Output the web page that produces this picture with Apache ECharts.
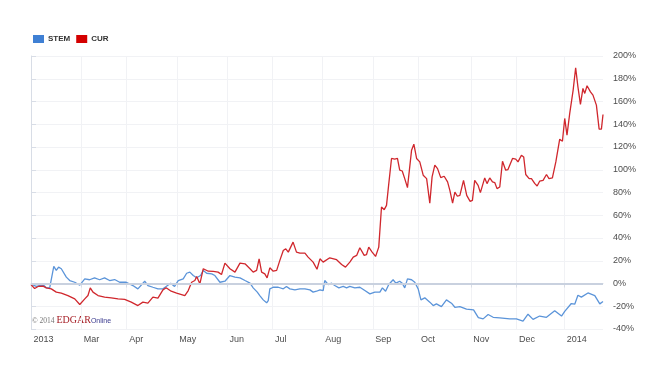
<!DOCTYPE html>
<html>
<head>
<meta charset="utf-8">
<script src="https://cdn.jsdelivr.net/npm/echarts@6/dist/echarts.min.js"></script>
<style>html,body{margin:0;padding:0;background:#fff;}#c{width:670px;height:374px;}</style>
</head>
<body>
<div id="c"></div>
<script>
// x = trading-day index from the first session shown
var monthTickIdx = [0, 22, 42, 64, 86, 106, 128, 150, 170, 193, 213, 234];
var monthLabels = ['2013', 'Mar', 'Apr', 'May', 'Jun', 'Jul', 'Aug', 'Sep', 'Oct', 'Nov', 'Dec', '2014'];
var yTicks = [-40, -20, 0, 20, 40, 60, 80, 100, 120, 140, 160, 180, 200];

var stemPoints = [
[0,-0.6],[2.3,-2.6],[3.8,-1.8],[5.7,-1.8],[6.7,-3.8],[8.2,-3.8],[8.9,-4.7],[10,15],[11.1,11.5],[12.1,14.4],
[13.3,13],[14,14.4],[15.5,5.6],[17,2.6],[19.2,1.1],[21.4,-1.5],[23.6,4.1],[25.7,3.3],[27.9,5],[30.1,3.3],
[32.3,5],[34.5,2.6],[36.7,3.5],[38.9,1.1],[41.8,1.1],[44.7,-1.8],[46.9,-4.7],[49.9,2],[51.3,-1.8],[53.5,-3.3],
[55.7,-4.7],[57.9,-4.7],[59.3,-2.6],[61.3,0.3],[63,-2.6],[64.6,2.6],[66.8,4.1],[68.3,9],[69.7,10],[71.2,7],
[72.7,5],[74.4,7],[75.6,11.5],[77.1,9],[79.3,8.5],[80.7,7],[82.9,1.1],[85.1,2],[87.3,7],[89.5,5.6],
[91.7,5],[93.9,2.6],[96.1,0.3],[97.5,-3.8],[99.3,-7.6],[100.4,-10.6],[101.9,-14.4],[103.4,-17],[104.1,-15],[104.8,-4.7],
[106.3,-3.3],[108.5,-3.3],[110.7,-4.7],[112.1,-2.6],[113.6,-4.7],[115.8,-5.6],[118,-4.7],[120.2,-4.7],[122.4,-5.6],[123.8,-7.6],
[125.3,-6.8],[126.8,-5.6],[128.2,-6.2],[128.9,2.6],[130.4,-0.9],[131.9,0.3],[133.3,-1.8],[135.1,-3.8],[137,-2.6],[138.5,-3.8],
[139.9,-2.6],[142.1,-3.8],[144.3,-3.3],[146.5,-6.2],[148.7,-9.1],[150.9,-7.6],[153.1,-7.6],[154.2,-3.8],[155.6,-6.8],[157,-0.9],
[158.9,3.3],[160.1,0.3],[161.8,2],[162.9,0.3],[164,-3.8],[165.2,4.1],[167,3.3],[168.4,1.1],[169.9,-4.7],[171.1,-14.4],
[172.8,-12.6],[175,-16.4],[176.5,-19.4],[177.9,-17.9],[180.1,-20.3],[182.3,-14.4],[184.5,-17.3],[186,-20.9],[188.2,-20.3],[191.1,-22.6],
[194.2,-23.2],[196.3,-30],[198.4,-31.1],[200.6,-27.3],[202.8,-29.7],[205.7,-30.2],[210.1,-31.1],[213,-31.1],[215.9,-33],[218.1,-27],
[220.3,-31.5],[223.2,-28.6],[226.2,-29.7],[229.8,-24],[232.8,-28.6],[234.2,-24.5],[237.1,-17.6],[238.6,-18.2],[240,-10.3],[241.5,-12],
[244.4,-8.3],[247.4,-10.6],[249.6,-17.9],[251,-15.8]
];

var curPoints = [
[0,-1],[1.6,-4.4],[3.1,-2.6],[5.3,-2.3],[6.7,-3.8],[8.9,-4.7],[11.1,-7.6],[13.3,-8.5],[16.2,-10.6],[19.2,-13.5],
[21.4,-18.5],[23.6,-13.5],[25,-10.6],[26,-3.8],[27.2,-7.6],[29.4,-10.6],[32.3,-12],[35.2,-12.6],[38.2,-13.5],[41.1,-14],
[44,-16.4],[46.9,-19.4],[49.1,-16.4],[51.3,-17.3],[53.5,-12],[55.7,-12.9],[57.9,-5.6],[59.3,-3.8],[61.5,-6.8],[63.9,-8.5],
[67.5,-10.6],[69,-6.2],[70.5,1.1],[71.9,2.6],[72.7,6.2],[74.1,-0.3],[75.6,13],[77.8,10.8],[80,10.6],[82.1,10],
[83.6,7.9],[85.1,17.9],[87.3,13],[89.5,10],[91.7,17.9],[93.9,17.3],[96.1,13],[97.5,10],[99,11.5],[100.1,21.7],
[101.2,10],[102.6,8.5],[103.6,5],[104.8,13.8],[106.3,10.8],[107.8,11.5],[109.2,20.3],[110.7,29],[111.8,30.5],[112.9,27.6],
[115,36.4],[116.5,27.6],[118,26.7],[120.2,26.7],[121.6,23.2],[123.8,18.8],[125.5,12.5],[126.8,21.7],[128.2,18.8],[131.1,22.6],
[134.1,20.9],[136.3,16.7],[138,14.4],[139.9,18.8],[141.4,23.2],[142.9,24.7],[144.3,31.4],[146.2,24.7],[147.2,25.3],[148.2,32],
[149.7,27.6],[151.2,23.8],[152.6,32],[153.8,67.2],[155,64.9],[156,68.7],[157,87.8],[158.2,109.9],[159.6,109.3],[160.8,109.9],
[161.8,99.6],[162.9,98.9],[164,92.2],[165.2,84.3],[167,117.2],[168,122.5],[169.2,109.9],[170.6,106.9],[172.1,95.2],[173.6,92.2],
[175,70.7],[176,93.7],[177.2,104],[178.4,101],[179.8,93.1],[181.3,94.3],[182.8,89.3],[183.8,81.9],[185,70.7],[186,80.4],
[187.1,76.7],[188.2,77.5],[189.8,90.7],[191.2,77.5],[192.7,72.2],[193.7,73.1],[194.7,90.7],[196.2,86.3],[197.2,79.9],[199.1,92.8],
[200.1,87.8],[201.3,92.8],[202.5,89.3],[203.5,88.7],[204.5,83.4],[205.7,84.8],[206.9,107.5],[208.3,99.6],[209.3,100.2],[211.3,109.9],
[212.7,109.3],[213.7,106.9],[215.2,112.8],[216.2,111.3],[217.1,95.8],[218.6,92.2],[219.6,92.2],[221.1,87.8],[222.1,85.7],[223.2,89.9],
[224.7,90.7],[226.2,95.8],[227.3,92.2],[228.8,92.8],[230.3,106.9],[230.8,107.5],[232,126.9],[233.2,125.1],[234.2,145.1],[235.2,130.4],
[236.4,149.5],[237.9,170],[239,189.7],[240,172.9],[241.1,157.4],[242.2,171.5],[243,167.1],[244,173.8],[245.5,168.5],[246.6,165.6],
[248.1,156.8],[249.3,135.7],[250.3,135.7],[251,148.6]
];

var chart = echarts.init(document.getElementById('c'), null, {renderer: 'canvas'});
var labelFont = '"Liberation Sans", Arial, sans-serif';
var serif = '"Liberation Serif", "DejaVu Serif", serif';
var option = {
  animation: false,
  backgroundColor: '#ffffff',
  legend: {
    left: 28, top: 30,
    itemWidth: 11, itemHeight: 8, itemGap: 6,
    icon: 'rect',
    textStyle: {fontSize: 8, fontWeight: 'bold', color: '#333333', fontFamily: labelFont, padding: [0, 0, 0, -1]},
    data: ['STEM', 'CUR']
  },
  grid: {left: 31, right: 67, top: 56, bottom: 45},
  xAxis: {
    type: 'value', min: 0, max: 251,
    axisLine: {show: true, lineStyle: {color: '#d8dde6', width: 1}},
    axisTick: {show: true, length: 4, lineStyle: {color: '#d8dde6'}, customValues: monthTickIdx},
    axisLabel: {
      customValues: monthTickIdx, align: 'left', margin: 6,
      fontSize: 9, color: '#4d4d4d', fontFamily: labelFont,
      formatter: function (v) { var i = monthTickIdx.indexOf(Math.round(v)); return i >= 0 ? ' ' + monthLabels[i] : ''; }
    },
    splitLine: {show: true, lineStyle: {color: '#f1f2f5', width: 1}}
  },
  yAxis: {
    type: 'value', position: 'right', min: -40, max: 200, interval: 20,
    axisLine: {show: true, lineStyle: {color: '#d8dde6'}},
    axisTick: {show: true, inside: false, length: 5, lineStyle: {color: '#d8dde6'}},
    axisLabel: {fontSize: 9, color: '#4d4d4d', margin: 10, fontFamily: labelFont, formatter: function (v) { return v + '%'; }},
    splitLine: {show: true, lineStyle: {color: '#f1f2f5', width: 1}}
  },
  graphic: [{
    type: 'text', left: 32, top: 315, silent: true,
    style: {
      text: '{a|\u00A9 2014 }{b|EDGAR}{c|Online}',
      rich: {
        a: {fontSize: 7.5, fill: '#777777', fontFamily: serif, verticalAlign: 'bottom'},
        b: {fontSize: 10, fill: '#a51d24', fontFamily: serif, verticalAlign: 'bottom'},
        c: {fontSize: 7, fill: '#3b3b8f', fontFamily: labelFont, verticalAlign: 'bottom'}
      }
    }
  }],
  series: [
    {
      name: 'STEM', type: 'line', data: stemPoints, showSymbol: false, symbol: 'none',
      itemStyle: {color: '#3f80d4'},
      lineStyle: {color: '#5b94d9', width: 1.3},
      z: 3,
      markLine: {
        silent: true, symbol: 'none', label: {show: false},
        lineStyle: {color: '#c9d1df', width: 2, type: 'solid'},
        data: [{yAxis: 0}]
      }
    },
    {
      name: 'CUR', type: 'line', data: curPoints, showSymbol: false, symbol: 'none',
      itemStyle: {color: '#d40000'},
      lineStyle: {color: '#d0272d', width: 1.3},
      z: 4
    }
  ]
};
chart.setOption(option);
</script>
</body>
</html>
